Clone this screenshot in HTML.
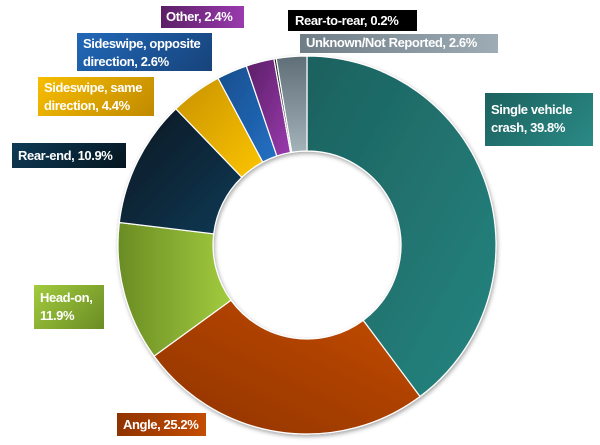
<!DOCTYPE html>
<html><head><meta charset="utf-8"><style>
html,body{margin:0;padding:0;background:#fff;width:600px;height:445px;overflow:hidden}
.l{position:absolute;color:#fff;font:bold 13px/18px "Liberation Sans",sans-serif;padding:2px 6px;box-sizing:border-box;letter-spacing:-0.4px;white-space:nowrap}
</style></head><body>
<svg id="s" width="600" height="445" style="position:absolute;left:0;top:0">
<defs>
<filter id="sh" x="-10%" y="-10%" width="120%" height="120%"><feDropShadow dx="1" dy="2" stdDeviation="2" flood-opacity="0.35"/></filter>
<linearGradient id="g0" x1="0" y1="0" x2="1" y2="1"><stop offset="0" stop-color="#1c615f"/><stop offset="1" stop-color="#268580"/></linearGradient>
<linearGradient id="g1" x1="0" y1="1" x2="1" y2="0"><stop offset="0" stop-color="#8f3300"/><stop offset="1" stop-color="#c44c02"/></linearGradient>
<linearGradient id="g2" x1="0" y1="0" x2="1" y2="0"><stop offset="0" stop-color="#6a8c24"/><stop offset="1" stop-color="#a2cb3e"/></linearGradient>
<linearGradient id="g3" x1="0" y1="0" x2="1" y2="1"><stop offset="0" stop-color="#05161f"/><stop offset="1" stop-color="#0e3a56"/></linearGradient>
<linearGradient id="g4" x1="0" y1="0" x2="1" y2="1"><stop offset="0" stop-color="#c89200"/><stop offset="1" stop-color="#fcc400"/></linearGradient>
<linearGradient id="g5" x1="0" y1="0" x2="1" y2="1"><stop offset="0" stop-color="#174d8c"/><stop offset="1" stop-color="#2470c4"/></linearGradient>
<linearGradient id="g6" x1="0" y1="0" x2="1" y2="1"><stop offset="0" stop-color="#5b1f66"/><stop offset="1" stop-color="#9a3aae"/></linearGradient>
<linearGradient id="g7"><stop offset="0" stop-color="#222"/><stop offset="1" stop-color="#222"/></linearGradient>
<linearGradient id="g8" x1="0" y1="0" x2="0" y2="1"><stop offset="0" stop-color="#5f6e77"/><stop offset="1" stop-color="#a4b2ba"/></linearGradient>
</defs>
<g id="d" filter="url(#sh)"></g>
</svg>
<div class="l" style="left:161px;top:6px;width:83px;height:22px;padding:2px 5px;background:linear-gradient(90deg,#5b1f66,#9a3aae)">Other, 2.4%</div>
<div class="l" style="left:288px;top:10px;width:129px;height:21px;padding:2px 7px;background:#000">Rear-to-rear, 0.2%</div>
<div class="l" style="left:300px;top:34px;width:198px;height:19px;padding-top:0;background:linear-gradient(90deg,#6f7d86,#9eadb5)">Unknown/Not Reported, 2.6%</div>
<div class="l" style="left:77px;top:33px;width:135px;height:38px;background:linear-gradient(135deg,#2168b8,#17437a)">Sideswipe, opposite<br>direction, 2.6%</div>
<div class="l" style="left:38px;top:77px;width:116px;height:39px;background:linear-gradient(135deg,#f7bd00,#c08a00)">Sideswipe, same<br>direction, 4.4%</div>
<div class="l" style="left:12px;top:143px;width:114px;height:25px;padding-top:4px;background:linear-gradient(135deg,#0e3a56,#05161f)">Rear-end, 10.9%</div>
<div class="l" style="left:485px;top:93px;width:108px;height:53px;padding-top:8px;background:linear-gradient(135deg,#1c615f,#2a8a85)">Single vehicle<br>crash, 39.8%</div>
<div class="l" style="left:34px;top:285px;width:70px;height:44px;padding-top:4px;background:linear-gradient(135deg,#a2cb3e,#6a8c24)">Head-on,<br>11.9%</div>
<div class="l" style="left:117px;top:413px;width:89px;height:23px;padding-top:3px;background:linear-gradient(90deg,#8f3300,#c44c02)">Angle, 25.2%</div>
<script>
var p=[39.8,25.2,11.9,10.9,4.4,2.6,2.4,0.2,2.6],cx=307,cy=245,R=189,r=94,a=0,h='';
function pt(ang,rad){var t=(ang-90)*Math.PI/180;return (cx+rad*Math.cos(t)).toFixed(2)+' '+(cy+rad*Math.sin(t)).toFixed(2);}
p.forEach(function(v,i){var b=a+v*3.6,lg=(b-a)>180?1:0;
h+='<path d="M'+pt(a,R)+' A'+R+' '+R+' 0 '+lg+' 1 '+pt(b,R)+' L'+pt(b,r)+' A'+r+' '+r+' 0 '+lg+' 0 '+pt(a,r)+' Z" fill="url(#g'+i+')" stroke="#fff" stroke-width="1.2"/>';a=b;});
document.getElementById('d').innerHTML=h;
</script>
</body></html>
